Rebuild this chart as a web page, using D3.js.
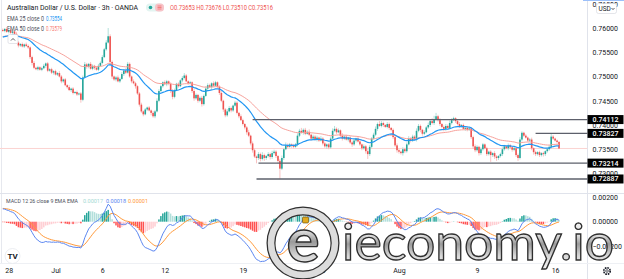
<!DOCTYPE html>
<html>
<head>
<meta charset="utf-8">
<script src="https://cdn.jsdelivr.net/npm/d3@7"></script>
<style>
  body { margin: 0; background: #fff; }
  svg { display: block; font-family: Roboto, "Liberation Sans", sans-serif; }
</style>
</head>
<body>
<div id="chart"></div>
<script>
// AUD/USD 3h candles, close of each bar (open = previous close)
var firstOpen = 0.7596;
var closes = [
  0.7594, 0.7598, 0.7592, 0.7595, 0.7590, 0.7593, 0.7588, 0.7570, 0.7564, 0.7567,
  0.7562, 0.7566, 0.7563, 0.7560, 0.7540, 0.7528, 0.7518, 0.7515, 0.7519, 0.7514,
  0.7517, 0.7522, 0.7527, 0.7512, 0.7515, 0.7508, 0.7511, 0.7504, 0.7507, 0.7500,
  0.7490, 0.7494, 0.7482, 0.7478, 0.7472, 0.7475, 0.7466, 0.7468, 0.7463, 0.7465,
  0.7452, 0.7498, 0.7525, 0.7520, 0.7526, 0.7516, 0.7522, 0.7518, 0.7514, 0.7522,
  0.7528, 0.7540, 0.7556, 0.7570, 0.7583, 0.7530, 0.7500, 0.7494, 0.7498, 0.7490,
  0.7495, 0.7505, 0.7512, 0.7508, 0.7526, 0.7500, 0.7490, 0.7486, 0.7480, 0.7465,
  0.7442, 0.7428, 0.7422, 0.7432, 0.7436, 0.7430, 0.7425, 0.7418, 0.7428, 0.7450,
  0.7470, 0.7480, 0.7488, 0.7484, 0.7490, 0.7485, 0.7470, 0.7458, 0.7472, 0.7485,
  0.7480, 0.7492, 0.7497, 0.7502, 0.7490, 0.7486, 0.7488, 0.7470, 0.7455, 0.7462,
  0.7450, 0.7456, 0.7443, 0.7460, 0.7475, 0.7482, 0.7478, 0.7486, 0.7481, 0.7488,
  0.7479, 0.7466, 0.7450, 0.7432, 0.7420, 0.7428, 0.7435, 0.7430, 0.7440, 0.7446,
  0.7425, 0.7418, 0.7410, 0.7402, 0.7395, 0.7385, 0.7378, 0.7362, 0.7348, 0.7335,
  0.7332, 0.7340, 0.7330, 0.7338, 0.7332, 0.7336, 0.7340, 0.7334, 0.7342, 0.7345,
  0.7336, 0.7326, 0.7310, 0.7332, 0.7350, 0.7358, 0.7355, 0.7360, 0.7357, 0.7355,
  0.7360, 0.7378, 0.7388, 0.7384, 0.7390, 0.7382, 0.7386, 0.7380, 0.7372, 0.7376,
  0.7370, 0.7374, 0.7368, 0.7372, 0.7362, 0.7356, 0.7360, 0.7354, 0.7372, 0.7388,
  0.7392, 0.7385, 0.7389, 0.7378, 0.7372, 0.7376, 0.7370, 0.7374, 0.7364, 0.7360,
  0.7368, 0.7372, 0.7366, 0.7360, 0.7352, 0.7356, 0.7346, 0.7340, 0.7355, 0.7372,
  0.7380, 0.7392, 0.7402, 0.7398, 0.7404, 0.7400, 0.7396, 0.7402, 0.7394, 0.7390,
  0.7375, 0.7358, 0.7348, 0.7345, 0.7342, 0.7350, 0.7346, 0.7360, 0.7372, 0.7368,
  0.7376, 0.7370, 0.7388, 0.7398, 0.7390, 0.7382, 0.7385, 0.7395, 0.7400, 0.7408,
  0.7404, 0.7412, 0.7418, 0.7410, 0.7402, 0.7396, 0.7392, 0.7398, 0.7394, 0.7404,
  0.7410, 0.7414, 0.7408, 0.7402, 0.7398, 0.7400, 0.7392, 0.7394, 0.7390, 0.7393,
  0.7375, 0.7356, 0.7348, 0.7355, 0.7342, 0.7350, 0.7360, 0.7352, 0.7340, 0.7345,
  0.7338, 0.7342, 0.7335, 0.7332, 0.7336, 0.7340, 0.7350, 0.7356, 0.7352, 0.7358,
  0.7354, 0.7349, 0.7352, 0.7338, 0.7332, 0.7370, 0.7384, 0.7378, 0.7374, 0.7368,
  0.7370, 0.7352, 0.7344, 0.7340, 0.7344, 0.7338, 0.7342, 0.7340, 0.7346, 0.7350,
  0.7355, 0.7376, 0.7372, 0.7368, 0.7365, 0.73516
];

// wick lengths above / below the body, in pips
var upperWicks = [
  3,2,4,2,3,2,3,4,3,2, 3,2,4,3,2,3,4,2,3,2, 3,4,2,3,2,3,2,3,2,4, 3,2,3,2,4,2,3,2,3,2,
  3,4,5,3,2,4,3,2,3,4, 3,4,3,5,17,4,3,2,3,4, 3,4,3,5,4,3,2,4,3,2, 3,4,2,3,2,3,2,4,3,5,
  4,3,2,4,3,2,3,4,3,2, 3,2,4,5,3,2,3,2,4,3, 2,3,4,3,5,4,3,2,4,3, 2,3,4,2,3,5,4,3,2,4,
  3,2,4,3,2,3,5,2,4,3, 2,4,3,6,3,2,4,3,5,4, 3,2,4,5,3,6,4,3,2,4, 3,5,4,6,3,4,3,5,2,4,
  3,4,2,5,3,4,2,3,4,5, 6,3,4,2,5,3,4,2,3,4, 3,2,4,3,2,4,3,5,4,3, 4,5,3,6,4,3,2,4,3,2,
  3,2,4,3,2,4,3,4,5,3, 4,3,5,4,3,2,4,3,5,4, 6,7,7,3,4,2,3,4,3,5, 4,3,2,3,4,2,3,2,4,3,
  2,3,4,3,2,4,3,2,3,2, 3,2,4,3,2,3,4,3,2,4, 3,2,3,2,3,5,3,2,3,2, 3,4,2,3,2,3,2,3,2,3,
  4,7,3,2,2,2
];
var lowerWicks = [
  2,3,2,3,2,4,3,2,4,3, 2,3,2,3,4,5,3,2,3,2, 3,2,4,3,2,3,4,2,3,2, 4,3,2,3,2,4,3,2,3,2,
  6,3,2,4,3,2,3,4,2,3, 2,3,2,3,2,4,5,3,4,2, 3,2,4,3,2,3,4,2,5,3, 4,3,4,2,3,2,5,3,4,2,
  3,2,3,2,4,3,4,5,3,2, 3,2,4,3,2,3,2,4,5,3, 4,3,5,3,2,3,2,4,3,2, 3,4,3,5,4,3,2,4,3,2,
  3,4,2,3,4,5,3,4,5,3, 11,4,5,3,6,4,3,5,4,3, 4,5,21,3,4,2,3,2,4,3, 2,4,3,2,4,3,2,3,4,3,
  2,4,3,2,4,3,5,4,3,2, 3,4,2,3,4,3,2,4,3,5, 3,4,2,3,4,3,5,10,4,3, 2,3,4,2,3,4,2,3,4,3,
  4,3,5,4,3,5,4,3,2,4, 3,2,4,3,5,4,3,2,3,4, 3,4,2,3,4,3,5,4,3,2, 3,2,4,3,4,3,2,4,3,2,
  4,5,4,3,5,4,3,2,4,3, 14,4,5,6,4,3,4,3,2,4, 3,4,3,4,6,3,4,3,2,3, 3,4,5,4,3,4,3,5,4,3,
  3,4,3,2,3,1
];

// indicator values just before the first visible bar
var ema25Seed = 0.7580;
var ema50Seed = 0.7582;
var ema12Seed = 0.7590;
var ema26Seed = 0.7579;
var signalSeed = 0.0011;

// axis ticks
var priceTicks = [0.765, 0.76, 0.755, 0.75, 0.745, 0.74, 0.735, 0.73];
var macdTicks = [0.002, 0, -0.002];
var dateLabels = ["28", "Jul", "6", "12", "19", "26", "Aug", "9", "16"];
var dateBars = [3, 27, 51, 83, 123, 163, 203, 243, 283];

// drawn support / resistance levels and the bar where each starts
var levels = [0.74112, 0.73827, 0.73214, 0.72887];
var levelStartBars = [128, 273, 131, 130];

// legend values as printed on the chart
var ohlcLegend = ["0.73653", "0.73676", "0.73510", "0.73516"];
var emaLegend = ["0.73554", "0.73579"];
var macdLegend = ["0.00017", "0.00018", "0.00001"];

var svgWidth = 624;
var svgHeight = 279;
var axisX = 587.5;
var pip = 0.0001;

var svg = d3.select("#chart")
  .append("svg")
  .attr("width", svgWidth)
  .attr("height", svgHeight);

var defs = svg.append("defs");
defs.append("clipPath").attr("id", "mainClip")
  .append("rect").attr("x", 0).attr("y", 0).attr("width", axisX).attr("height", 193);
defs.append("clipPath").attr("id", "macdClip")
  .append("rect").attr("x", 0).attr("y", 194).attr("width", axisX).attr("height", 69);

// scales
var x = d3.scaleLinear().domain([0, closes.length - 1]).range([2.8, 559]);
var yPrice = d3.scaleLinear().domain([0.735, 0.76]).range([149.25, 28]);
var yMacd = d3.scaleLinear().domain([-0.002, 0.002]).range([246.1, 197.3]);

// candles
var candles = closes.map(function(c, i) {
  var o = i === 0 ? firstOpen : closes[i - 1];
  return {
    i: i, o: o, c: c,
    h: Math.max(o, c) + upperWicks[i] * pip,
    l: Math.min(o, c) - lowerWicks[i] * pip
  };
});

// indicators
function ema(values, n, seed) {
  var k = 2 / (n + 1), prev = seed;
  return values.map(function(v) { prev = v * k + prev * (1 - k); return prev; });
}
var ema25 = ema(closes, 25, ema25Seed);
var ema50 = ema(closes, 50, ema50Seed);
var ema12 = ema(closes, 12, ema12Seed);
var ema26 = ema(closes, 26, ema26Seed);
var macd = ema12.map(function(v, i) { return v - ema26[i]; });
var signal = ema(macd, 9, signalSeed);
var hist = macd.map(function(v, i) { return v - signal[i]; });

// frame lines
svg.append("line").attr("x1", 1.5).attr("x2", 1.5).attr("y1", 0).attr("y2", 263)
  .attr("stroke", "#e6e8ee");
svg.append("line").attr("x1", axisX).attr("x2", axisX).attr("y1", 0).attr("y2", 279)
  .attr("stroke", "#e0e3eb");
svg.append("line").attr("x1", 0).attr("x2", svgWidth).attr("y1", 193.5).attr("y2", 193.5)
  .attr("stroke", "#e0e3eb");
svg.append("line").attr("x1", 0).attr("x2", svgWidth).attr("y1", 263.5).attr("y2", 263.5)
  .attr("stroke", "#eef0f4");
svg.append("line").attr("x1", 583).attr("x2", svgWidth).attr("y1", 0.5).attr("y2", 0.5)
  .attr("stroke", "#9cc0fa");

// main pane
var main = svg.append("g").attr("clip-path", "url(#mainClip)");

// last price line
main.append("line")
  .attr("x1", 0).attr("x2", axisX)
  .attr("y1", yPrice(closes[closes.length - 1])).attr("y2", yPrice(closes[closes.length - 1]))
  .attr("stroke", "#fbd3d1");

main.selectAll(".wick")
  .data(candles)
  .enter()
  .append("line")
  .attr("class", "wick")
  .attr("x1", d => x(d.i)).attr("x2", d => x(d.i))
  .attr("y1", d => yPrice(d.h)).attr("y2", d => yPrice(d.l))
  .attr("stroke", d => d.c >= d.o ? "#9fd8d2" : "#f6b3b2")
  .attr("stroke-width", 0.8);

main.selectAll(".body")
  .data(candles)
  .enter()
  .append("rect")
  .attr("class", "body")
  .attr("x", d => x(d.i) - 0.8)
  .attr("width", 1.6)
  .attr("y", d => yPrice(Math.max(d.o, d.c)))
  .attr("height", d => Math.max(0.8, Math.abs(yPrice(d.o) - yPrice(d.c))))
  .attr("fill", d => d.c >= d.o ? "#26a69a" : "#ef5350");

var emaLine = function(vals) {
  return d3.line().x((d, i) => x(i)).y(d => yPrice(d))(vals);
};
main.append("path").attr("d", emaLine(ema50))
  .attr("fill", "none").attr("stroke", "#f7a29c").attr("stroke-width", 1);
main.append("path").attr("d", emaLine(ema25))
  .attr("fill", "none").attr("stroke", "#2196f3").attr("stroke-width", 1.2);

// support / resistance levels
main.selectAll(".level")
  .data(levels)
  .enter()
  .append("line")
  .attr("class", "level")
  .attr("x1", (d, k) => x(levelStartBars[k])).attr("x2", axisX)
  .attr("y1", d => yPrice(d)).attr("y2", d => yPrice(d))
  .attr("stroke", "#5d606b").attr("stroke-width", 1.3);

// MACD pane
var pane = svg.append("g").attr("clip-path", "url(#macdClip)");

pane.selectAll(".hist")
  .data(hist)
  .enter()
  .append("rect")
  .attr("class", "hist")
  .attr("x", (d, i) => x(i) - 0.75)
  .attr("width", 1.5)
  .attr("y", d => Math.min(yMacd(d), yMacd(0)))
  .attr("height", d => Math.abs(yMacd(d) - yMacd(0)))
  .attr("fill", function(d, i) {
    var prev = i === 0 ? d : hist[i - 1];
    if (d >= 0) return d >= prev ? "#26a69a" : "#b2dfdb";
    return d <= prev ? "#ff5252" : "#ffcdd2";
  });

var macdLine = d3.line().x((d, i) => x(i)).y(d => yMacd(d));
pane.append("path").attr("d", macdLine(signal))
  .attr("fill", "none").attr("stroke", "#ff9a3c").attr("stroke-width", 1);
pane.append("path").attr("d", macdLine(macd))
  .attr("fill", "none").attr("stroke", "#5b86f0").attr("stroke-width", 1);

// axes
var priceAxis = svg.append("g")
  .attr("transform", `translate(${axisX}, 0)`)
  .call(d3.axisRight(yPrice).tickValues(priceTicks).tickFormat(d3.format(".5f")).tickSize(0).tickPadding(5));

var macdAxis = svg.append("g")
  .attr("transform", `translate(${axisX}, 0)`)
  .call(d3.axisRight(yMacd).tickValues(macdTicks).tickFormat(d3.format(".5f")).tickSize(0).tickPadding(5));

var timeAxis = svg.append("g")
  .attr("transform", "translate(0, 263)")
  .call(d3.axisBottom(x).tickValues(dateBars).tickFormat((d, i) => dateLabels[i]).tickSize(0).tickPadding(5));

[priceAxis, macdAxis, timeAxis].forEach(function(a) {
  a.select(".domain").remove();
  a.selectAll("text").attr("fill", "#131722").attr("font-size", 7)
    .attr("font-family", "Roboto, 'Liberation Sans', sans-serif");
});

// level labels on the price axis
var tags = svg.selectAll(".tag")
  .data(levels)
  .enter()
  .append("g")
  .attr("class", "tag")
  .attr("transform", d => `translate(${axisX}, ${yPrice(d)})`);
tags.append("rect").attr("x", 0).attr("y", -4.5).attr("width", 36).attr("height", 9)
  .attr("fill", "#000");
tags.append("text").attr("x", 18).attr("y", 2.5).attr("text-anchor", "middle")
  .attr("fill", "#fff").attr("font-size", 7).attr("font-weight", 500)
  .text(d => d3.format(".5f")(d));

// USD box
svg.append("rect").attr("x", 596.5).attr("y", 3.5).attr("width", 20).attr("height", 10).attr("rx", 2)
  .attr("fill", "#fff").attr("stroke", "#d1d4dc").attr("stroke-width", 0.6);
svg.append("text").attr("x", 598.5).attr("y", 11).attr("font-size", 6.5).attr("fill", "#131722")
  .text("USD");
svg.append("path").attr("d", "M611.5,8 l1.5,1.6 l1.5,-1.6").attr("fill", "none")
  .attr("stroke", "#131722").attr("stroke-width", 0.7);

// legends
svg.append("text").attr("x", 7).attr("y", 10).attr("font-size", 7.5).attr("fill", "#131722")
  .attr("textLength", 131).attr("lengthAdjust", "spacingAndGlyphs")
  .text("Australian Dollar / U.S. Dollar \u00b7 3h \u00b7 OANDA");

svg.append("rect").attr("x", 146).attr("y", 3.5).attr("width", 18).attr("height", 8).attr("rx", 4)
  .attr("fill", "#e3f4f1");
svg.append("circle").attr("cx", 150.5).attr("cy", 7.5).attr("r", 1.8).attr("fill", "#26a69a");
svg.append("rect").attr("x", 155).attr("y", 3.5).attr("width", 9).attr("height", 8).attr("rx", 3.5)
  .attr("fill", "#f8c3c8");
svg.append("path").attr("d", "M157.5,6 h4 M157.5,7.5 h4 M157.5,9 h4").attr("stroke", "#ef5350")
  .attr("stroke-width", 0.6);

var ohlc = svg.append("text").attr("x", 170).attr("y", 10).attr("font-size", 6.5)
  .attr("fill", "#ef5350").attr("textLength", 103).attr("lengthAdjust", "spacingAndGlyphs");
["O", "H", "L", "C"].forEach(function(k, i) {
  ohlc.append("tspan").text((i ? " " : "") + k + ohlcLegend[i]);
});

[["EMA 25 close 0", "#2196f3", 20.5], ["EMA 50 close 0", "#f77c75", 30.5]].forEach(function(row, i) {
  svg.append("text").attr("x", 7).attr("y", row[2]).attr("font-size", 6.5).attr("fill", "#4a4e59")
    .attr("textLength", 37).attr("lengthAdjust", "spacingAndGlyphs").text(row[0]);
  svg.append("text").attr("x", 46).attr("y", row[2]).attr("font-size", 6.5).attr("fill", row[1])
    .attr("textLength", 16).attr("lengthAdjust", "spacingAndGlyphs").text(emaLegend[i]);
});

// collapse button
svg.append("rect").attr("x", 8).attr("y", 34.5).attr("width", 10).attr("height", 9).attr("rx", 1.5)
  .attr("fill", "#fff").attr("stroke", "#d1d4dc").attr("stroke-width", 0.6);
svg.append("path").attr("d", "M11,40.5 l2,-2 l2,2").attr("fill", "none").attr("stroke", "#131722")
  .attr("stroke-width", 0.7);

svg.append("text").attr("x", 6).attr("y", 202.5).attr("font-size", 6.2).attr("fill", "#4a4e59")
  .attr("textLength", 72).attr("lengthAdjust", "spacingAndGlyphs").text("MACD 12 26 close 9 EMA EMA");
[["#a5d9d3", 83], ["#5b86f0", 106], ["#ff9a3c", 128]].forEach(function(m, i) {
  svg.append("text").attr("x", m[1]).attr("y", 202.5).attr("font-size", 5.6).attr("fill", m[0])
    .attr("textLength", 20).attr("lengthAdjust", "spacingAndGlyphs").text(macdLegend[i]);
});

// TradingView logo
svg.append("circle").attr("cx", 12.5).attr("cy", 256).attr("r", 7.5).attr("fill", "#fff")
  .attr("stroke", "#e6e8ee").attr("stroke-width", 0.8);
svg.append("text").attr("x", 12.5).attr("y", 259).attr("text-anchor", "middle").attr("font-size", 8)
  .attr("font-weight", "bold").attr("fill", "#131722").text("TV");

// settings gear
svg.append("circle").attr("cx", 607).attr("cy", 271).attr("r", 3.2).attr("fill", "none")
  .attr("stroke", "#131722").attr("stroke-width", 1.6).attr("stroke-dasharray", "1.6,0.9");
svg.append("circle").attr("cx", 607).attr("cy", 271).attr("r", 1.3).attr("fill", "none")
  .attr("stroke", "#131722").attr("stroke-width", 0.7);

// watermark
var silver = defs.append("linearGradient").attr("id", "silver")
  .attr("x1", 0).attr("y1", 0).attr("x2", 0).attr("y2", 1);
[["0%", "#ffffff"], ["40%", "#e2e2e2"], ["55%", "#9a9a9a"], ["75%", "#d8d8d8"], ["100%", "#f5f5f5"]]
  .forEach(function(s) { silver.append("stop").attr("offset", s[0]).attr("stop-color", s[1]); });

var wm = svg.append("g");
wm.append("circle").attr("cx", 303).attr("cy", 243).attr("r", 32).attr("fill", "none")
  .attr("stroke", "#2f2f2f").attr("stroke-width", 9);
wm.append("circle").attr("cx", 303).attr("cy", 243).attr("r", 32).attr("fill", "none")
  .attr("stroke", "#dcdcdc").attr("stroke-width", 6.5);
wm.append("text").attr("x", 303).attr("y", 262).attr("text-anchor", "middle")
  .attr("font-family", "Lato, 'DejaVu Sans', sans-serif").attr("font-size", 62).attr("font-weight", "bold")
  .attr("fill", "url(#silver)").attr("stroke", "#2f2f2f").attr("stroke-width", 1.4).text("e");
wm.append("rect").attr("x", 302.5).attr("y", 217).attr("width", 6).attr("height", 6).attr("rx", 1)
  .attr("fill", "#e0a81e").attr("stroke", "#5a4300").attr("stroke-width", 0.6);
wm.append("text").attr("x", 342).attr("y", 260)
  .attr("font-family", "Lato, 'DejaVu Sans', sans-serif").attr("font-size", 50)
  .attr("textLength", 272).attr("lengthAdjust", "spacingAndGlyphs")
  .attr("fill", "url(#silver)").attr("stroke", "#2f2f2f").attr("stroke-width", 1.3)
  .text("ieconomy.io");
</script>
</body>
</html>
